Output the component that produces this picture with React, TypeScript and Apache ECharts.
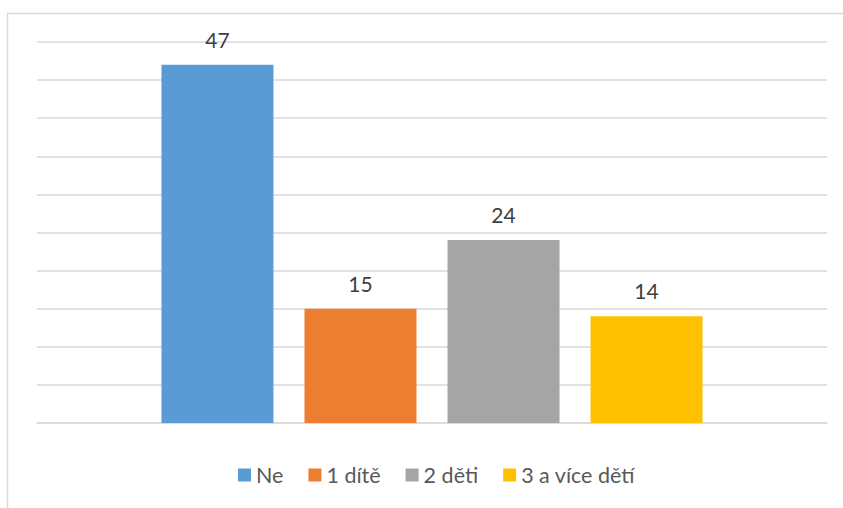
import React, { useEffect, useRef } from "react";
import * as echarts from "echarts";

const categories = [""];
const seriesNames = ["Ne", "1 dítě", "2 děti", "3 a více dětí"];
const seriesValues = [47, 15, 24, 14];
const seriesColors = ["#5b9bd5", "#ed7d31", "#a5a5a5", "#ffc000"];
const yMin = 0;
const yMax = 50;
const yInterval = 5;

export default function App() {
  const ref = useRef<HTMLDivElement>(null);
  useEffect(() => {
    if (!ref.current) return;
    const chart = echarts.init(ref.current, null, { renderer: "svg" });
    const font = "Lato, 'Open Sans', sans-serif";
    chart.setOption({
      animation: false,
      backgroundColor: "#ffffff",
      textStyle: { fontFamily: font },
      graphic: [
        { type: "line", shape: { x1: 7.5, y1: 13, x2: 7.5, y2: 508 }, style: { stroke: "#d9d9d9", lineWidth: 1.5 } },
        { type: "line", shape: { x1: 7, y1: 13.5, x2: 843, y2: 13.5 }, style: { stroke: "#d9d9d9", lineWidth: 1.5 } },
      ],
      grid: { left: 37, right: 16, top: 42, bottom: 85, containLabel: false },
      legend: {
        bottom: 17,
        left: 233,
        itemWidth: 13,
        itemHeight: 13,
        itemGap: 25,
        icon: "rect",
        textStyle: { color: "#595959", fontSize: 21.5, fontFamily: font },
        data: seriesNames,
      },
      xAxis: {
        type: "category",
        data: categories,
        axisLine: { show: true, lineStyle: { color: "#d9d9d9", width: 1.5 } },
        axisTick: { show: false },
        axisLabel: { show: false },
      },
      yAxis: {
        type: "value",
        min: yMin,
        max: yMax,
        interval: yInterval,
        axisLabel: { show: false },
        axisLine: { show: false },
        axisTick: { show: false },
        splitLine: { lineStyle: { color: "#d9d9d9", width: 1.5 } },
      },
      series: seriesNames.map((name, i) => ({
        name,
        type: "bar",
        data: [seriesValues[i]],
        barWidth: 112,
        barGap: "27.7%",
        itemStyle: { color: seriesColors[i] },
        label: {
          show: true,
          position: "top",
          distance: 15,
          color: "#404040",
          fontSize: 21,
          fontFamily: font,
        },
      })),
    });
    return () => chart.dispose();
  }, []);
  return (
    <div
      ref={ref}
      style={{ position: "fixed", left: 0, top: 0, width: 843, height: 508 }}
    />
  );
}
